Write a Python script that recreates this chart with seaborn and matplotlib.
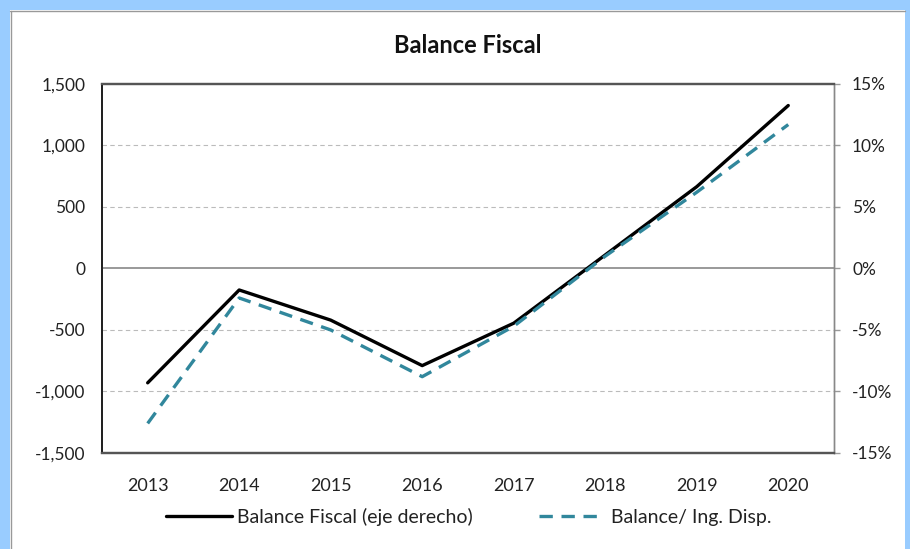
import numpy as np
import pandas as pd
import matplotlib
matplotlib.use('Agg')
import matplotlib.pyplot as plt
import seaborn as sns
from matplotlib.patches import Rectangle
from matplotlib.ticker import FuncFormatter

## data
years = [2013, 2014, 2015, 2016, 2017, 2018, 2019, 2020]
balance_fiscal = [-930, -175, -420, -790, -445, 110, 665, 1325]      # left axis
balance_ing_disp = [-12.6, -2.4, -5.0, -8.8, -4.7, 1.0, 6.2, 11.7]   # right axis, %

df = pd.DataFrame({'year': years, 'bf': balance_fiscal, 'bid': balance_ing_disp})

sns.set_style('white')
plt.rcParams['font.family'] = ['Lato', 'DejaVu Sans']

fig = plt.figure(figsize=(9.1, 5.49), dpi=100)
ax = fig.add_axes([0.112, 0.175, 0.8045, 0.672])
ax2 = ax.twinx()

teal = '#31879C'
sns.lineplot(data=df, x='year', y='bf', color='black', lw=2.4, ax=ax,
             label='Balance Fiscal (eje derecho)')
sns.lineplot(data=df, x='year', y='bid', color=teal, lw=2.4, ax=ax2,
             dashes=False, label='Balance/ Ing. Disp.')
ax2.lines[0].set_dashes((4, 2.6))

ax.set_xlim(2012.5, 2020.5)
ax.set_ylim(-1500, 1500)
ax2.set_ylim(-15, 15)
ax.set_xticks(years)
ax.set_yticks(np.arange(-1500, 1501, 500))
ax2.set_yticks(np.arange(-15, 16, 5))
ax.yaxis.set_major_formatter(FuncFormatter(lambda v, p: f'{v:,.0f}'))
ax2.yaxis.set_major_formatter(FuncFormatter(lambda v, p: f'{v:.0f}%'))
ax.set_xlabel('')
ax.set_ylabel('')
ax2.set_ylabel('')

for g in [1000, 500, -500, -1000]:
    ax.axhline(g, color='#BBBBBB', lw=0.8, ls=(0, (4, 3)), zorder=0)
ax.axhline(0, color='#888888', lw=1.2, zorder=0)

txt = '#222222'
ax.tick_params(axis='y', length=0, pad=12, labelsize=12.5, labelcolor=txt)
ax.tick_params(axis='x', length=0, pad=18, labelsize=13, labelcolor=txt)
ax2.tick_params(axis='y', length=4, width=1, color='#999999', direction='out',
                pad=9, labelsize=12.5, labelcolor=txt, right=True)

for a in (ax, ax2):
    a.spines['left'].set_color('#222222')
    a.spines['left'].set_linewidth(1.4)
    a.spines['top'].set_color('#555555')
    a.spines['top'].set_linewidth(1.6)
    a.spines['bottom'].set_color('#555555')
    a.spines['bottom'].set_linewidth(1.6)
    a.spines['right'].set_color('#888888')
    a.spines['right'].set_linewidth(1.0)

ax.set_title('Balance Fiscal', fontsize=17, fontweight='bold', pad=22, color='#111111')

h1, l1 = ax.get_legend_handles_labels()
h2, l2 = ax2.get_legend_handles_labels()
ax.get_legend().remove()
ax2.get_legend().remove()
fig.legend(h1 + h2, l1 + l2, loc='center', bbox_to_anchor=(0.515, 0.058), ncol=2,
           frameon=False, fontsize=14, handlelength=3.4, handletextpad=0.3,
           columnspacing=3.4, labelcolor=txt)

## light blue chart-area border
W, H = 910, 549
for (x0, y0, w, h) in [(0, H - 10, W, 10), (0, 0, 10, H), (W - 5, 0, 5, H)]:
    fig.patches.append(Rectangle((x0 / W, y0 / H), w / W, h / H, transform=fig.transFigure,
                                 facecolor='#99CCFF', edgecolor='none', zorder=0))
fig.add_artist(plt.Line2D([10 / W, 1 - 5 / W], [1 - 11 / H, 1 - 11 / H], color='#999999', lw=1))
fig.add_artist(plt.Line2D([11 / W, 11 / W], [0, 1 - 11 / H], color='#999999', lw=1))

fig.savefig('out.png', dpi=100)
